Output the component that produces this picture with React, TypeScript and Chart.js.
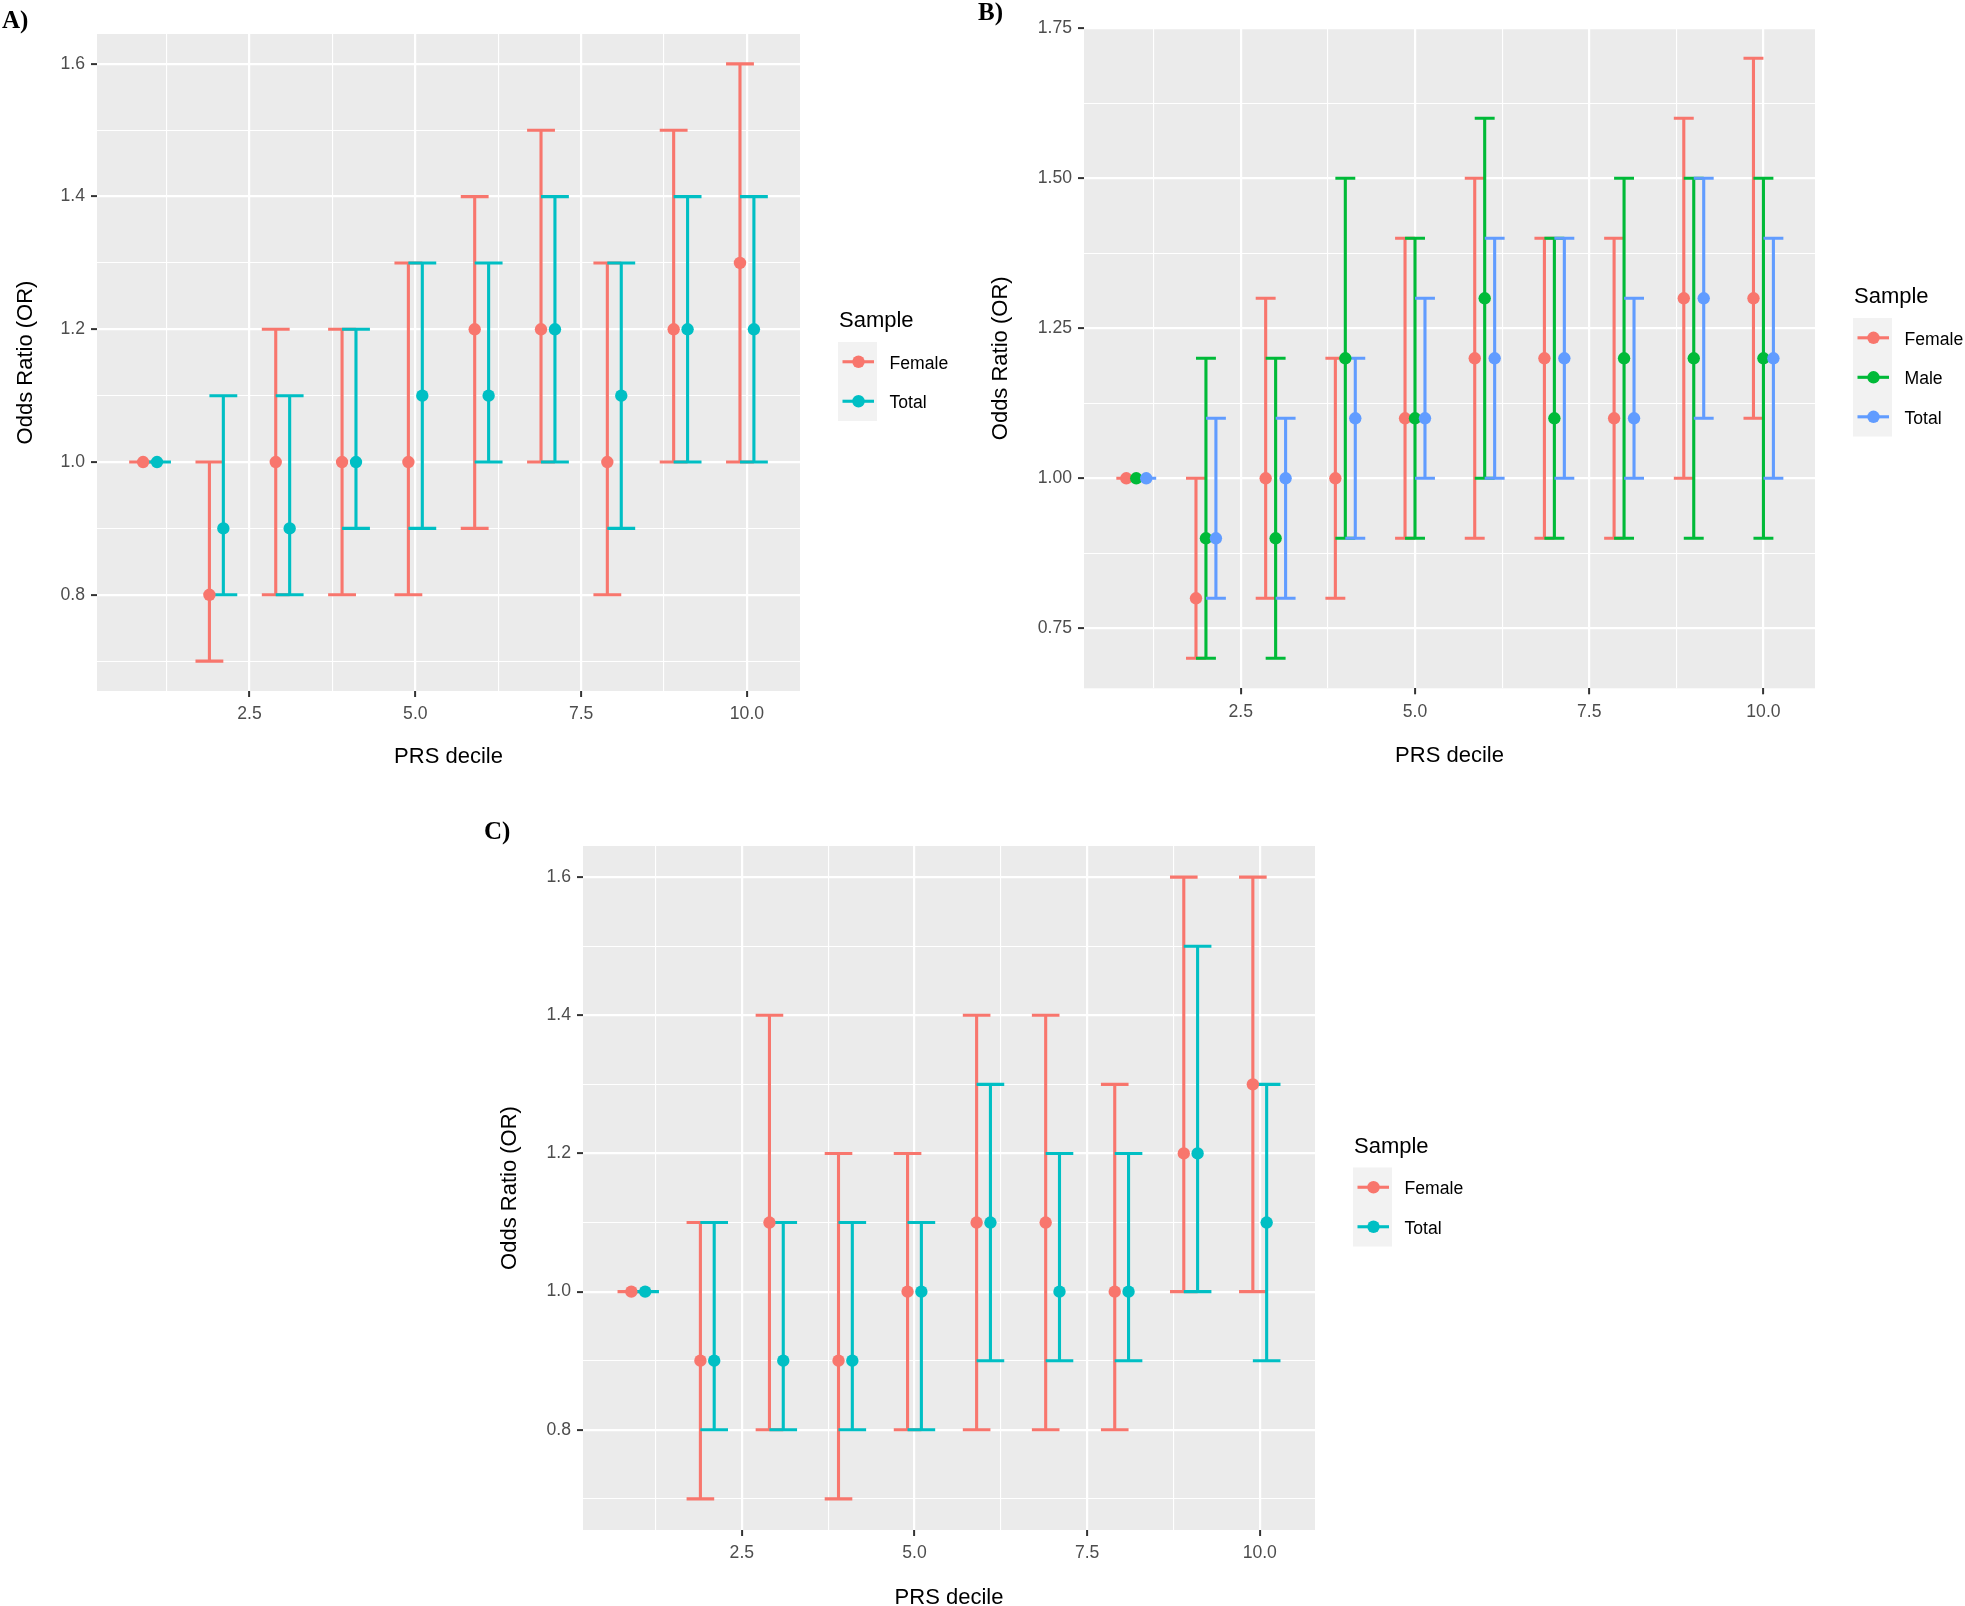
import React, { useEffect, useRef } from 'react';
import { Chart, registerables } from 'chart.js';

Chart.register(...registerables);

// ---------------- data ----------------
const deciles = [1, 2, 3, 4, 5, 6, 7, 8, 9, 10];

// Panel A
const aFemaleOR = [1.0, 0.8, 1.0, 1.0, 1.0, 1.2, 1.2, 1.0, 1.2, 1.3];
const aFemaleLo = [1.0, 0.7, 0.8, 0.8, 0.8, 0.9, 1.0, 0.8, 1.0, 1.0];
const aFemaleHi = [1.0, 1.0, 1.2, 1.2, 1.3, 1.4, 1.5, 1.3, 1.5, 1.6];
const aTotalOR = [1.0, 0.9, 0.9, 1.0, 1.1, 1.1, 1.2, 1.1, 1.2, 1.2];
const aTotalLo = [1.0, 0.8, 0.8, 0.9, 0.9, 1.0, 1.0, 0.9, 1.0, 1.0];
const aTotalHi = [1.0, 1.1, 1.1, 1.2, 1.3, 1.3, 1.4, 1.3, 1.4, 1.4];

// Panel B
const bFemaleOR = [1.0, 0.8, 1.0, 1.0, 1.1, 1.2, 1.2, 1.1, 1.3, 1.3];
const bFemaleLo = [1.0, 0.7, 0.8, 0.8, 0.9, 0.9, 0.9, 0.9, 1.0, 1.1];
const bFemaleHi = [1.0, 1.0, 1.3, 1.2, 1.4, 1.5, 1.4, 1.4, 1.6, 1.7];
const bMaleOR = [1.0, 0.9, 0.9, 1.2, 1.1, 1.3, 1.1, 1.2, 1.2, 1.2];
const bMaleLo = [1.0, 0.7, 0.7, 0.9, 0.9, 1.0, 0.9, 0.9, 0.9, 0.9];
const bMaleHi = [1.0, 1.2, 1.2, 1.5, 1.4, 1.6, 1.4, 1.5, 1.5, 1.5];
const bTotalOR = [1.0, 0.9, 1.0, 1.1, 1.1, 1.2, 1.2, 1.1, 1.3, 1.2];
const bTotalLo = [1.0, 0.8, 0.8, 0.9, 1.0, 1.0, 1.0, 1.0, 1.1, 1.0];
const bTotalHi = [1.0, 1.1, 1.1, 1.2, 1.3, 1.4, 1.4, 1.3, 1.5, 1.4];

// Panel C
const cFemaleOR = [1.0, 0.9, 1.1, 0.9, 1.0, 1.1, 1.1, 1.0, 1.2, 1.3];
const cFemaleLo = [1.0, 0.7, 0.8, 0.7, 0.8, 0.8, 0.8, 0.8, 1.0, 1.0];
const cFemaleHi = [1.0, 1.1, 1.4, 1.2, 1.2, 1.4, 1.4, 1.3, 1.6, 1.6];
const cTotalOR = [1.0, 0.9, 0.9, 0.9, 1.0, 1.1, 1.0, 1.0, 1.2, 1.1];
const cTotalLo = [1.0, 0.8, 0.8, 0.8, 0.8, 0.9, 0.9, 0.9, 1.0, 0.9];
const cTotalHi = [1.0, 1.1, 1.1, 1.1, 1.1, 1.3, 1.2, 1.2, 1.5, 1.3];

// ticks
const xMajorTicks = [2.5, 5, 7.5, 10];
const xMajorLabels = ['2.5', '5.0', '7.5', '10.0'];
const xMinorTicks = [1.25, 3.75, 6.25, 8.75];
const yMajorTicksAC = [0.8, 1.0, 1.2, 1.4, 1.6];
const yMajorLabelsAC = ['0.8', '1.0', '1.2', '1.4', '1.6'];
const yMinorTicksAC = [0.7, 0.9, 1.1, 1.3, 1.5];
const yMajorTicksB = [0.75, 1.0, 1.25, 1.5, 1.75];
const yMajorLabelsB = ['0.75', '1.00', '1.25', '1.50', '1.75'];
const yMinorTicksB = [0.875, 1.125, 1.375, 1.625];

const xAxisTitle = 'PRS decile';
const yAxisTitle = 'Odds Ratio (OR)';
const legendTitle = 'Sample';
const seriesFemale = 'Female';
const seriesMale = 'Male';
const seriesTotal = 'Total';

// ---------------- styling / layout ----------------
const RED = '#F8766D';
const TEAL = '#00BFC4';
const GREEN = '#00BA38';
const BLUE = '#619CFF';
const FONT = '"Liberation Sans", Arial, sans-serif';
const TITLE_SIZE = 22;
const TICK_SIZE = 17.6;
const LH = 1.2;
const BAR_WIDTH = 3.1;
const POINT_R = 6.2;

interface Series { label: string; color: string; or: number[]; lo: number[]; hi: number[]; }
interface PanelCfg {
  tag: string;
  tagX: number; tagY: number;
  canvas: { x: number; y: number; w: number; h: number };
  plot: { l: number; t: number; r: number; b: number };
  xRange: [number, number];
  yRange: [number, number];
  yTitleX: number;
  xTitleY: number;
  offsets: number[];
  capHalf: number;
  yMajor: number[];
  yMajorLabels: string[];
  yMinor: number[];
  series: Series[];
}

const PANELS: PanelCfg[] = [
  {
    tag: 'A)', tagX: 2, tagY: 28,
    canvas: { x: 0, y: 0, w: 960, h: 800 },
    plot: { l: 97, t: 34, r: 800, b: 691 },
    xRange: [0.2, 10.8], yRange: [0.655, 1.645],
    yTitleX: 26, xTitleY: 757,
    offsets: [-0.105, 0.105], capHalf: 0.21,
    yMajor: yMajorTicksAC, yMajorLabels: yMajorLabelsAC, yMinor: yMinorTicksAC,
    series: [
      { label: seriesFemale, color: RED, or: aFemaleOR, lo: aFemaleLo, hi: aFemaleHi },
      { label: seriesTotal, color: TEAL, or: aTotalOR, lo: aTotalLo, hi: aTotalHi },
    ],
  },
  {
    tag: 'B)', tagX: 978, tagY: 20,
    canvas: { x: 960, y: 0, w: 1005, h: 800 },
    plot: { l: 1084, t: 28.3, r: 1815, b: 688.3 },
    xRange: [0.25, 10.74], yRange: [0.65, 1.75],
    yTitleX: 1001, xTitleY: 756,
    offsets: [-0.143, 0, 0.143], capHalf: 0.143,
    yMajor: yMajorTicksB, yMajorLabels: yMajorLabelsB, yMinor: yMinorTicksB,
    series: [
      { label: seriesFemale, color: RED, or: bFemaleOR, lo: bFemaleLo, hi: bFemaleHi },
      { label: seriesMale, color: GREEN, or: bMaleOR, lo: bMaleLo, hi: bMaleHi },
      { label: seriesTotal, color: BLUE, or: bTotalOR, lo: bTotalLo, hi: bTotalHi },
    ],
  },
  {
    tag: 'C)', tagX: 484, tagY: 839,
    canvas: { x: 470, y: 800, w: 1000, h: 815 },
    plot: { l: 583, t: 846, r: 1315, b: 1530 },
    xRange: [0.2, 10.8], yRange: [0.655, 1.645],
    yTitleX: 510, xTitleY: 1597.5,
    offsets: [-0.1, 0.1], capHalf: 0.2,
    yMajor: yMajorTicksAC, yMajorLabels: yMajorLabelsAC, yMinor: yMinorTicksAC,
    series: [
      { label: seriesFemale, color: RED, or: cFemaleOR, lo: cFemaleLo, hi: cFemaleHi },
      { label: seriesTotal, color: TEAL, or: cTotalOR, lo: cTotalLo, hi: cTotalHi },
    ],
  },
];

const near = (a: number, b: number) => Math.abs(a - b) < 1e-9;

function buildConfig(p: PanelCfg): any {
  const cx = p.canvas.x;
  const cy = p.canvas.y;
  const titleLH = TITLE_SIZE * LH;
  const yScaleLeft = p.yTitleX - titleLH / 2 - cx;
  const Wy = p.plot.l - cx - yScaleLeft;
  const padL = yScaleLeft;
  const padT = p.plot.t - cy;
  const padR = cx + p.canvas.w - p.plot.r;
  const xScaleBottom = p.xTitleY + titleLH / 2 - cy;
  const Hx = xScaleBottom - (p.plot.b - cy);
  const padB = p.canvas.h - xScaleBottom;

  const xAll = [...xMajorTicks, ...xMinorTicks].sort((a, b) => a - b);
  const yAll = [...p.yMajor, ...p.yMinor].sort((a, b) => a - b);
  const isXMajor = (v: number) => xMajorTicks.some((m) => near(m, v));
  const isYMajor = (v: number) => p.yMajor.some((m) => near(m, v));
  const n = p.series.length;

  const datasets = p.series.map((s, i) => ({
    label: s.label,
    data: deciles.map((d, j) => ({ x: d + p.offsets[i], y: s.or[j] })),
    backgroundColor: s.color,
    borderColor: s.color,
    pointBackgroundColor: s.color,
    pointBorderWidth: 0,
    pointRadius: POINT_R,
    pointHoverRadius: POINT_R,
    showLine: false,
    order: n - i,
  }));

  const panelPlugin = {
    id: 'ggpanel',
    beforeDraw(chart: any) {
      const { ctx, chartArea } = chart;
      ctx.save();
      ctx.fillStyle = '#EBEBEB';
      ctx.fillRect(chartArea.left, chartArea.top, chartArea.right - chartArea.left, chartArea.bottom - chartArea.top);
      ctx.restore();
    },
    beforeDatasetsDraw(chart: any) {
      const { ctx } = chart;
      const xs = chart.scales.x;
      const ys = chart.scales.y;
      ctx.save();
      ctx.lineWidth = BAR_WIDTH;
      ctx.lineCap = 'butt';
      p.series.forEach((s, i) => {
        ctx.strokeStyle = s.color;
        ctx.beginPath();
        deciles.forEach((d, j) => {
          const xv = d + p.offsets[i];
          const px = xs.getPixelForValue(xv);
          const pl = xs.getPixelForValue(xv - p.capHalf);
          const pr = xs.getPixelForValue(xv + p.capHalf);
          const ylo = ys.getPixelForValue(s.lo[j]);
          const yhi = ys.getPixelForValue(s.hi[j]);
          ctx.moveTo(px, ylo);
          ctx.lineTo(px, yhi);
          ctx.moveTo(pl, ylo);
          ctx.lineTo(pr, ylo);
          ctx.moveTo(pl, yhi);
          ctx.lineTo(pr, yhi);
        });
        ctx.stroke();
      });
      ctx.restore();
    },
    afterDraw(chart: any) {
      const { ctx, chartArea } = chart;
      ctx.save();
      // legend
      const keyH = 39.5;
      const keyW = 39;
      const keyLeft = chartArea.right + 38;
      const mid = (chartArea.top + chartArea.bottom) / 2;
      const keyTop = mid - (n * keyH) / 2 + 19;
      ctx.fillStyle = '#000000';
      ctx.font = `${TITLE_SIZE}px ${FONT}`;
      ctx.textBaseline = 'alphabetic';
      ctx.textAlign = 'left';
      ctx.fillText(legendTitle, keyLeft + 1, keyTop - 15);
      ctx.fillStyle = '#F2F2F2';
      ctx.fillRect(keyLeft, keyTop, keyW, n * keyH);
      p.series.forEach((s, i) => {
        const ky = keyTop + i * keyH + keyH / 2;
        ctx.strokeStyle = s.color;
        ctx.lineWidth = BAR_WIDTH;
        ctx.beginPath();
        ctx.moveTo(keyLeft + 4.5, ky);
        ctx.lineTo(keyLeft + keyW - 3, ky);
        ctx.stroke();
        ctx.fillStyle = s.color;
        ctx.beginPath();
        ctx.arc(keyLeft + 20.5, ky, POINT_R, 0, Math.PI * 2);
        ctx.fill();
        ctx.fillStyle = '#000000';
        ctx.font = `${TICK_SIZE}px ${FONT}`;
        ctx.textBaseline = 'middle';
        ctx.fillText(s.label, keyLeft + 51.5, ky + 2);
      });
      // panel tag
      ctx.fillStyle = '#000000';
      ctx.font = `bold 25px "Liberation Serif", "Times New Roman", serif`;
      ctx.textBaseline = 'alphabetic';
      ctx.fillText(p.tag, p.tagX - cx, p.tagY - cy);
      ctx.restore();
    },
  };

  return {
    type: 'scatter',
    data: { datasets },
    plugins: [panelPlugin],
    options: {
      responsive: false,
      maintainAspectRatio: false,
      animation: false,
      events: [],
      layout: { padding: { left: padL, top: padT, right: padR, bottom: padB } },
      plugins: { legend: { display: false }, tooltip: { enabled: false } },
      scales: {
        x: {
          type: 'linear',
          position: 'bottom',
          min: p.xRange[0],
          max: p.xRange[1],
          afterBuildTicks: (scale: any) => {
            scale.ticks = xAll.map((v) => ({ value: v }));
          },
          afterFit: (scale: any) => {
            scale.height = Hx;
          },
          ticks: {
            autoSkip: false,
            maxRotation: 0,
            minRotation: 0,
            padding: 7,
            color: '#4D4D4D',
            font: { family: FONT, size: TICK_SIZE, lineHeight: LH },
            callback: (v: number) => {
              const k = xMajorTicks.findIndex((m) => near(m, v));
              return k >= 0 ? xMajorLabels[k] : '';
            },
          },
          grid: {
            color: '#FFFFFF',
            lineWidth: (c: any) => (c.tick && isXMajor(c.tick.value) ? 2.2 : 1.1),
            tickColor: (c: any) => (c.tick && isXMajor(c.tick.value) ? '#333333' : 'rgba(0,0,0,0)'),
            tickWidth: 2,
            tickLength: 6,
            drawTicks: true,
            drawOnChartArea: true,
          },
          border: { display: false },
          title: {
            display: true,
            text: xAxisTitle,
            color: '#000000',
            padding: 0,
            font: { family: FONT, size: TITLE_SIZE, lineHeight: LH },
          },
        },
        y: {
          type: 'linear',
          position: 'left',
          min: p.yRange[0],
          max: p.yRange[1],
          afterBuildTicks: (scale: any) => {
            scale.ticks = yAll.map((v) => ({ value: v }));
          },
          afterFit: (scale: any) => {
            scale.width = Wy;
          },
          ticks: {
            autoSkip: false,
            padding: 6,
            color: '#4D4D4D',
            font: { family: FONT, size: TICK_SIZE, lineHeight: LH },
            callback: (v: number) => {
              const k = p.yMajor.findIndex((m) => near(m, v));
              return k >= 0 ? p.yMajorLabels[k] : '';
            },
          },
          grid: {
            color: '#FFFFFF',
            lineWidth: (c: any) => (c.tick && isYMajor(c.tick.value) ? 2.2 : 1.1),
            tickColor: (c: any) => (c.tick && isYMajor(c.tick.value) ? '#333333' : 'rgba(0,0,0,0)'),
            tickWidth: 2,
            tickLength: 6,
            drawTicks: true,
            drawOnChartArea: true,
          },
          border: { display: false },
          title: {
            display: true,
            text: yAxisTitle,
            color: '#000000',
            padding: 0,
            font: { family: FONT, size: TITLE_SIZE, lineHeight: LH },
          },
        },
      },
    },
  };
}

function Panel({ cfg }: { cfg: PanelCfg }) {
  const ref = useRef<HTMLCanvasElement | null>(null);
  useEffect(() => {
    if (!ref.current) return;
    const chart = new Chart(ref.current, buildConfig(cfg));
    return () => chart.destroy();
  }, [cfg]);
  return (
    <canvas
      ref={ref}
      width={cfg.canvas.w}
      height={cfg.canvas.h}
      style={{
        position: 'absolute',
        left: cfg.canvas.x,
        top: cfg.canvas.y,
        width: cfg.canvas.w,
        height: cfg.canvas.h,
        display: 'block',
      }}
    />
  );
}

export default function App() {
  return (
    <div
      style={{
        position: 'fixed',
        left: 0,
        top: 0,
        width: 1965,
        height: 1606,
        overflow: 'hidden',
        background: '#FFFFFF',
      }}
    >
      {PANELS.map((p) => (
        <Panel key={p.tag} cfg={p} />
      ))}
    </div>
  );
}
